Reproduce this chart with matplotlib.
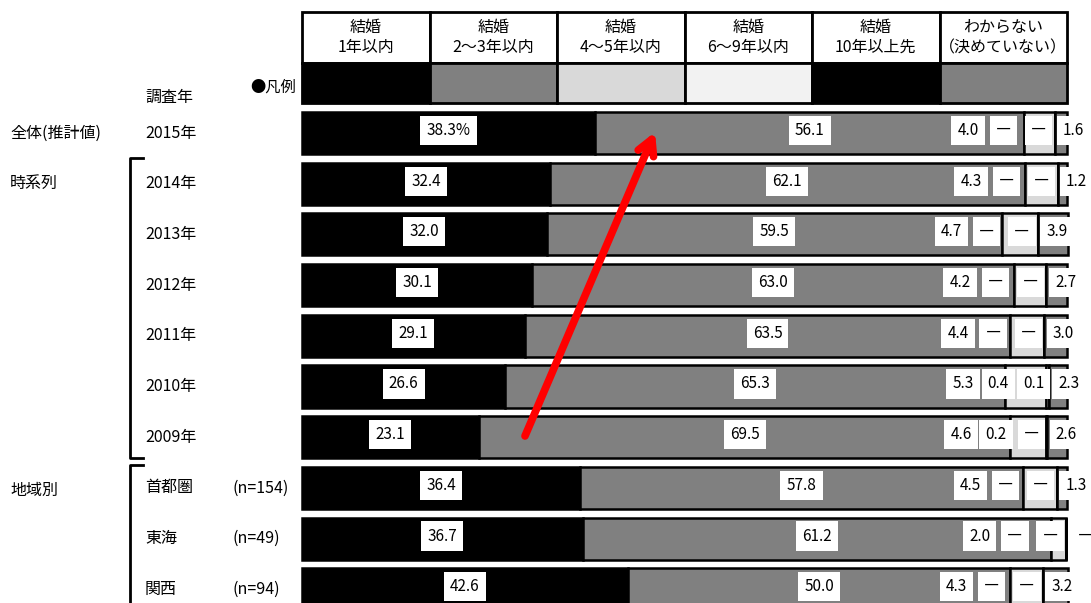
import matplotlib.pyplot as plt
import matplotlib.transforms as mtransforms
import numpy as np

plt.rcParams['font.family'] = ['Noto Sans CJK JP', 'DejaVu Sans']

# ─── DATA ──────────────────────────────────────────────────────────────────
CATEGORIES = ["結婚\n1年以内", "結婚\n2～3年以内", "結婚\n4～5年以内",
              "結婚\n6～9年以内", "結婚\n10年以上先", "わからない\n（決めていない）"]
COLORS = ["#000000", "#808080", "#d9d9d9", "#f2f2f2", "#000000", "#808080"]

ROW_LABELS = ["2015年", "2014年", "2013年", "2012年", "2011年", "2010年", "2009年",
              "首都圏", "東海", "関西"]
ROW_N = ["", "", "", "", "", "", "", "(n=154)", "(n=49)", "(n=94)"]

within_1y  = [38.3, 32.4, 32.0, 30.1, 29.1, 26.6, 23.1, 36.4, 36.7, 42.6]
within_3y  = [56.1, 62.1, 59.5, 63.0, 63.5, 65.3, 69.5, 57.8, 61.2, 50.0]
within_5y  = [4.0, 4.3, 4.7, 4.2, 4.4, 5.3, 4.6, 4.5, 2.0, 4.3]
within_9y  = [0.0, 0.0, 0.0, 0.0, 0.0, 0.4, 0.2, 0.0, 0.0, 0.0]
over_10y   = [0.0, 0.0, 0.0, 0.0, 0.0, 0.1, 0.0, 0.0, 0.0, 0.0]
undecided  = [1.6, 1.2, 3.9, 2.7, 3.0, 2.3, 2.6, 1.3, 0.0, 3.2]

SERIES = [within_1y, within_3y, within_5y, within_9y, over_10y, undecided]

# ─── LAYOUT (pixel geometry of the reference) ──────────────────────────────
W, H = 1091, 603
X0_PX, PX_PER_PCT = 302, 7.65
Y0_PX, ROW_PX = 133, 50.7
BAR_H = 0.83

def px_x(px):
    return (px - X0_PX) / PX_PER_PCT

def px_y(py):
    return (py - Y0_PX) / ROW_PX

fig = plt.figure(figsize=(W / 100, H / 100), dpi=100)
ax = fig.add_axes([0, 0, 1, 1])
ax.set_xlim(px_x(0), px_x(W))
ax.set_ylim(px_y(H), px_y(0))
ax.axis("off")
lab = mtransforms.blended_transform_factory(ax.transAxes, ax.transData)

# ─── HEADER + LEGEND ──────────────────────────────────────────────────────
col_w = 100 / len(CATEGORIES)
h_top, h_mid, h_bot = px_y(12), px_y(63), px_y(103)
for i, (cat, col) in enumerate(zip(CATEGORIES, COLORS)):
    x = i * col_w
    ax.add_patch(plt.Rectangle((x, h_top), col_w, h_mid - h_top, facecolor="white",
                               edgecolor="black", lw=2, zorder=2))
    ax.add_patch(plt.Rectangle((x, h_mid), col_w, h_bot - h_mid, facecolor=col,
                               edgecolor="black", lw=2, zorder=2))
    ax.text(x + col_w / 2, (h_top + h_mid) / 2, cat, ha="center", va="center",
            fontsize=11.5, linespacing=1.25, zorder=3)

# ─── BARS ─────────────────────────────────────────────────────────────────
data = np.array(SERIES)          # (6, rows)
n_rows = data.shape[1]
lefts = np.vstack([np.zeros(n_rows), np.cumsum(data, axis=0)[:-1]])
ys = np.arange(n_rows)

for k in range(len(SERIES)):
    ax.barh(ys, data[k], left=lefts[k], height=BAR_H, color=COLORS[k],
            edgecolor="black", lw=1.8, zorder=2)

box = dict(boxstyle="square,pad=0.4", facecolor="white", edgecolor="none")
GAP = 4.6
for r in range(n_rows):
    vals = data[:, r]
    xs = [0.0] * 6
    xs[0] = lefts[0, r] + vals[0] / 2
    xs[1] = lefts[1, r] + vals[1] / 2
    xs[5] = 102.4 - 0.95 * vals[5]
    for k in (4, 3, 2):
        xs[k] = min(lefts[k, r] + vals[k] / 2, xs[k + 1] - GAP)
    for k in range(6):
        v = vals[k]
        txt = "―" if v == 0 else f"{v:.1f}"
        if r == 0 and k == 0:
            txt += "%"
        ax.text(xs[k], r - 0.05, txt, ha="center", va="center", fontsize=11,
                bbox=box, zorder=4)

# ─── LEFT LABELS ──────────────────────────────────────────────────────────
fs = 11.5
ax.text(145 / W, px_y(97), "調査年", transform=lab, va="center", fontsize=fs)
ax.text(250 / W, px_y(87), "●凡例", transform=lab, va="center", fontsize=11)
for r, (name, n) in enumerate(zip(ROW_LABELS, ROW_N)):
    ax.text(145 / W, r, name, transform=lab, va="center", fontsize=fs)
    if n:
        ax.text(232 / W, r, n, transform=lab, va="center", fontsize=fs)
ax.text(10 / W, 0, "全体(推計値)", transform=lab, va="center", fontsize=fs)
ax.text(10 / W, 1, "時系列", transform=lab, va="center", fontsize=fs)
ax.text(10 / W, 7.05, "地域別", transform=lab, va="center", fontsize=fs)

# brackets
bx, bt = 130 / W, 143 / W
ax.plot([bt, bx, bx, bt], [px_y(158), px_y(158), px_y(458), px_y(458)],
        color="black", lw=2, transform=lab, clip_on=False)
ax.plot([bt, bx, bx], [px_y(465), px_y(465), px_y(610)],
        color="black", lw=2, transform=lab, clip_on=False)

# ─── ARROW ────────────────────────────────────────────────────────────────
ax.annotate("", xy=(px_x(655), px_y(132)), xytext=(px_x(525), px_y(436)),
            arrowprops=dict(arrowstyle="->,head_length=1.1,head_width=0.6",
                            color="red", lw=5.5, capstyle="round",
                            joinstyle="round", shrinkA=0, shrinkB=0),
            zorder=6)

fig.savefig("out.png", dpi=100)
